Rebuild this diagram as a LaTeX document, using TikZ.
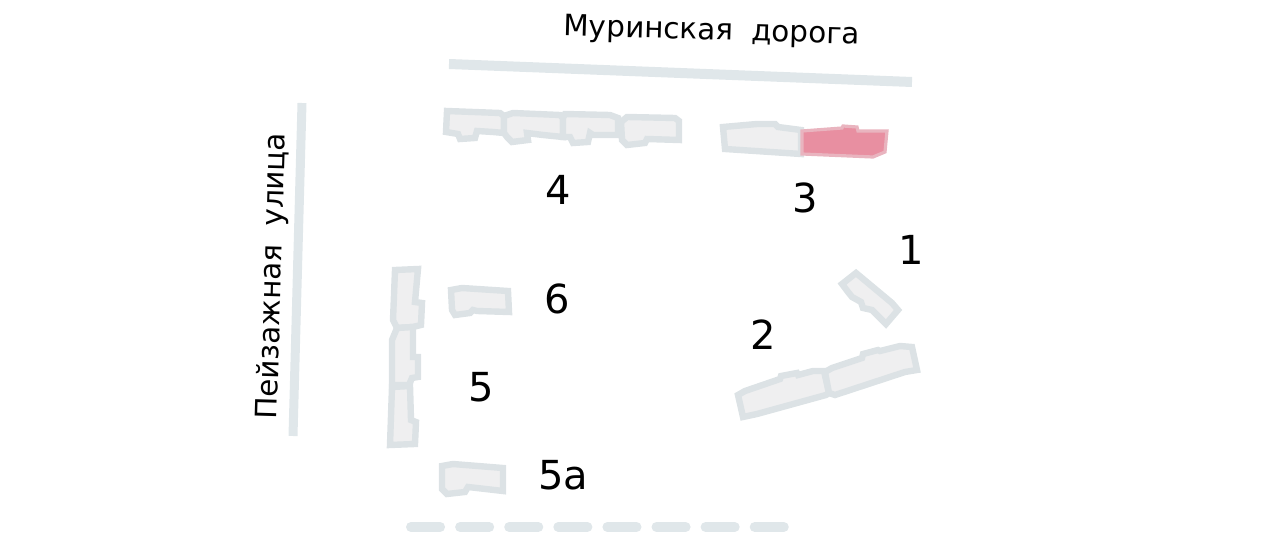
\documentclass[tikz,border=0pt]{standalone}
\usepackage{fontspec}
\setmainfont{DejaVu Sans}
\definecolor{roadgrey}{HTML}{E0E7EA}
\definecolor{edgegrey}{HTML}{DCE2E5}
\definecolor{fillgrey}{HTML}{EFEFF0}
\definecolor{edgepink}{HTML}{E9B4BF}
\definecolor{fillpink}{HTML}{E88FA1}
\tikzset{
    house/.style={draw=edgegrey,fill=fillgrey,line width=3.2pt},
    sold/.style={draw=edgepink,fill=fillpink,line width=1.6pt},
    road/.style={draw=roadgrey,line width=5pt},
    num/.style={font=\fontsize{20}{24}\selectfont,text=black,inner sep=0pt},
    street/.style={font=\fontsize{14.7}{18}\selectfont,text=black,inner sep=0pt}
}
\begin{document}
\begin{tikzpicture}[x=0.5pt,y=-0.5pt]
    \useasboundingbox (0,0) rectangle (1280,545);
    \coordinate (Ra) at (449,64);
    \coordinate (Rb) at (912,82);
    \coordinate (Rc) at (302,103);
    \coordinate (Rd) at (293,436);
    \coordinate (Re) at (411,527);
    \coordinate (Rf) at (784,527);
    \draw[road] (Ra) -- (Rb);
    \draw[road,line width=4.5pt] (Rc) -- (Rd);
    \draw[road,line cap=round,dash pattern=on 14.55pt off 10pt] (Re) -- (Rf);
    \draw[house] (447,111) -- (500,113) -- (504,116) -- (504,133) -- (493,132) -- (477,131) -- (475,138) -- (460,139) -- (458,134) -- (446,132) -- cycle;
    \draw[house] (504,116) -- (513,113) -- (560,115) -- (563,118) -- (563,137) -- (543,135) -- (527,133) -- (528,140) -- (512,142) -- (507,137) -- (504,133) -- cycle;
    \draw[house] (563,118) -- (565,114) -- (610,115) -- (618,118) -- (618,135) -- (593,135) -- (590,133) -- (588,142) -- (573,143) -- (570,137) -- (563,137) -- cycle;
    \draw[house] (621,122) -- (627,117) -- (675,118) -- (679,121) -- (679,140) -- (647,139) -- (645,143) -- (627,145) -- (622,140) -- cycle;
    \draw[house] (723,127) -- (757,124) -- (775,124) -- (778,127) -- (801,130) -- (801,154) -- (725,149) -- cycle;
    \draw[sold] (802,131) -- (842,128) -- (843,126) -- (857,127) -- (858,131) -- (887,131) -- (885,152) -- (873,157) -- (802,154) -- cycle;
    \draw[house] (856,273) -- (892,303) -- (898,310) -- (886,324) -- (872,310) -- (863,308) -- (861,302) -- (852,297) -- (848,292) -- (842,284) -- cycle;
    \draw[house] (738,395) -- (745,391) -- (780,379) -- (781,376) -- (797,373) -- (798,375) -- (813,371) -- (824,371) -- (829,393) -- (826,395) -- (757,414) -- (743,417) -- cycle;
    \draw[house] (825,372) -- (832,368) -- (862,358) -- (863,354) -- (878,350) -- (880,351) -- (900,346) -- (912,347) -- (917,370) -- (905,372) -- (835,395) -- (829,393) -- cycle;
    \draw[house] (395,270) -- (418,269) -- (415,302) -- (422,303) -- (421,325) -- (413,327) -- (397,328) -- (393,320) -- cycle;
    \draw[house] (397,328) -- (413,327) -- (413,357) -- (418,357) -- (418,377) -- (412,378) -- (409,385) -- (392,385) -- (392,340) -- cycle;
    \draw[house] (392,387) -- (410,386) -- (411,420) -- (416,422) -- (415,444) -- (390,445) -- cycle;
    \draw[house] (451,290) -- (462,288) -- (508,291) -- (509,312) -- (477,311) -- (473,310) -- (470,313) -- (455,315) -- (452,310) -- cycle;
    \draw[house] (442,466) -- (453,464) -- (503,468) -- (503,491) -- (468,487) -- (465,492) -- (447,494) -- (442,489) -- cycle;
    \node[street,rotate=-1.7] (muroad) at (712,32) {Муринская~~дорога};
    \node[street,rotate=88.3] (peizst) at (273,276) {Пейзажная~~улица};
    \node[num] (n4) at (558,190) {4};
    \node[num] (n3) at (805,198) {3};
    \node[num] (n1) at (911,250) {1};
    \node[num] (n6) at (557,299) {6};
    \node[num] (n2) at (763,335) {2};
    \node[num] (n5) at (481,387) {5};
    \node[num] (n5a) at (563,475) {5а};
\end{tikzpicture}
\end{document}
